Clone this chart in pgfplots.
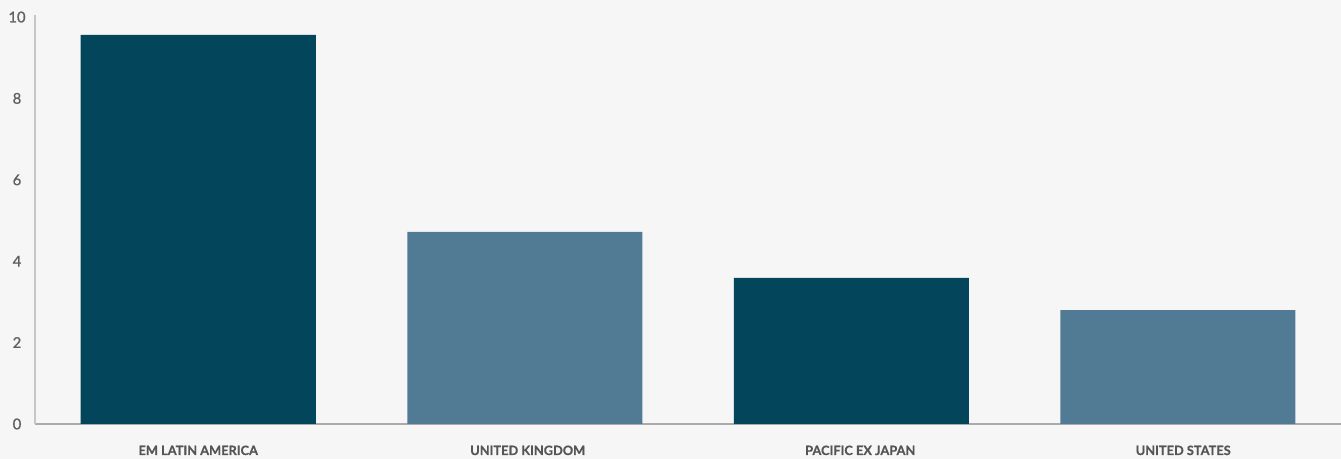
\documentclass[border=0pt]{standalone}
\usepackage{pgfplots}
\pgfplotsset{compat=1.18}
\usepackage{fontspec}
\setmainfont{Lato}
\newfontfamily\tickfont[FakeBold=1.2]{Lato}
\newfontfamily\labfont[FakeBold=0.6]{Lato Bold}
\definecolor{bgcol}{HTML}{F6F6F6}
\definecolor{darkbar}{HTML}{03455A}
\definecolor{lightbar}{HTML}{517A94}
\definecolor{ticktxt}{HTML}{606060}
\definecolor{labtxt}{HTML}{555555}
\definecolor{xaxcol}{HTML}{ABABAB}
\definecolor{yaxcol}{HTML}{C6C6C6}
\begin{document}
\begin{tikzpicture}
\fill[bgcol] (-17.5pt,-17.5pt) rectangle (653pt,212pt);
\useasboundingbox (-17.5pt,-17.5pt) rectangle (653pt,212pt);
\begin{axis}[
  at={(0pt,0pt)}, anchor=south west,
  scale only axis,
  width=653pt, height=204.5pt,
  xmin=-0.5, xmax=3.5,
  ymin=0, ymax=10.05,
  axis lines=left,
  x axis line style={-, draw=xaxcol, line width=1pt},
  y axis line style={-, draw=yaxcol, line width=0.9pt},
  major tick length=0pt,
  tick style={draw=none},
  xtick={0,1,2,3},
  xticklabels={EM LATIN AMERICA, \hspace*{3pt}UNITED KINGDOM, \hspace*{9pt}PACIFIC EX JAPAN, \hspace*{5.5pt}UNITED STATES},
  xticklabel style={anchor=base, inner sep=0pt, yshift=-15.5pt, font=\labfont\fontsize{6.4pt}{7pt}\selectfont, text=labtxt},
  ytick={0,2,4,6,8,10},
  yticklabel style={anchor=base, inner sep=0pt, xshift=-9pt, yshift=-2.65pt, font=\tickfont\fontsize{7.4pt}{8pt}\selectfont, text=ticktxt},
  /pgf/number format/assume math mode=true,
  clip=false,
]
\addplot[ybar, bar width=117.5pt, fill=darkbar, draw=none] coordinates {(0,9.56) (2,3.59)};
\addplot[ybar, bar width=117.5pt, fill=lightbar, draw=none] coordinates {(1,4.72) (3,2.80)};
\end{axis}
\end{tikzpicture}
\end{document}
